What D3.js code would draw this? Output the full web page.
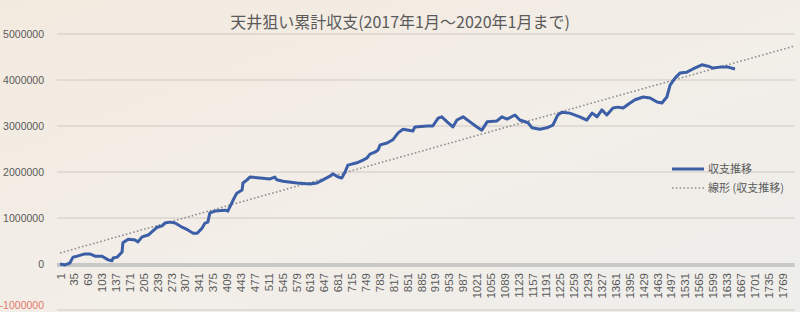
<!DOCTYPE html>
<html>
<head>
<meta charset="utf-8">
<script src="https://cdn.jsdelivr.net/npm/d3@7"></script>
<style>
  body { margin: 0; background: #f1ede6; }
  svg { display: block; font-family: "Liberation Sans", "Noto Sans CJK JP", sans-serif; }
</style>
</head>
<body>
<svg id="chart" width="800" height="312"></svg>
<script>
// data
const chartTitle = '天井狙い累計収支(2017年1月～2020年1月まで)';
const seriesName = '収支推移';
const trendName = '線形 (収支推移)';

// [row index, cumulative balance]
const balance = [
  [1, 0], [13, -20000], [25, 20000], [33, 150000], [43, 170000], [62, 220000], [74, 220000],
  [87, 170000], [104, 170000], [119, 90000], [128, 70000], [131, 130000], [141, 150000],
  [153, 260000], [155, 460000], [168, 540000], [185, 520000], [192, 480000], [202, 590000],
  [217, 630000], [226, 700000], [239, 800000], [251, 830000], [258, 890000], [270, 910000],
  [283, 890000], [300, 800000], [314, 740000], [327, 670000], [337, 670000], [349, 780000],
  [356, 890000], [363, 910000], [368, 1110000], [381, 1150000], [405, 1170000], [412, 1150000],
  [417, 1240000], [425, 1390000], [434, 1540000], [447, 1610000], [449, 1760000], [459, 1830000],
  [466, 1890000], [491, 1870000], [515, 1850000], [527, 1890000], [532, 1830000], [547, 1800000],
  [581, 1760000], [613, 1740000], [630, 1760000], [645, 1830000], [662, 1910000], [669, 1960000],
  [682, 1890000], [691, 1870000], [699, 2000000], [706, 2150000], [728, 2200000], [743, 2260000],
  [752, 2300000], [760, 2390000], [772, 2430000], [780, 2480000], [785, 2590000], [802, 2630000],
  [816, 2700000], [829, 2850000], [841, 2930000], [865, 2890000], [870, 2980000], [900, 3000000],
  [914, 3000000], [927, 3170000], [936, 3200000], [949, 3090000], [963, 2980000], [973, 3130000],
  [988, 3200000], [1005, 3090000], [1022, 2980000], [1034, 2910000], [1047, 3090000],
  [1071, 3110000], [1083, 3200000], [1096, 3150000], [1115, 3240000], [1127, 3130000],
  [1147, 3070000], [1157, 2960000], [1176, 2930000], [1193, 2960000], [1208, 3020000],
  [1220, 3240000], [1230, 3300000], [1249, 3280000], [1274, 3200000], [1291, 3130000],
  [1304, 3280000], [1316, 3200000], [1328, 3350000], [1340, 3240000], [1355, 3390000],
  [1367, 3410000], [1380, 3390000], [1397, 3500000], [1409, 3570000], [1429, 3630000],
  [1446, 3610000], [1463, 3520000], [1475, 3500000], [1487, 3630000], [1495, 3890000],
  [1507, 4040000], [1519, 4150000], [1536, 4170000], [1551, 4240000], [1573, 4330000],
  [1588, 4300000], [1600, 4260000], [1617, 4280000], [1637, 4280000], [1654, 4240000]
];

// linear trend line ends, as drawn
const trendLine = [[1, 240000], [1800, 4740000]];

const yTicks = [-1000000, 0, 1000000, 2000000, 3000000, 4000000, 5000000];
const xTicks = [1, 35, 69, 103, 137, 171, 205, 239, 273, 307, 341, 375, 409, 443, 477, 511, 545,
  579, 613, 647, 681, 715, 749, 783, 817, 851, 885, 919, 953, 987, 1021, 1055, 1089, 1123, 1157,
  1191, 1225, 1259, 1293, 1327, 1361, 1395, 1429, 1463, 1497, 1531, 1565, 1599, 1633, 1667, 1701,
  1735, 1769];

const svg = d3.select('#chart');
const width = 800, height = 312;

// photo-ish background
const defs = svg.append('defs');
const grad = defs.append('linearGradient')
  .attr('id', 'bg').attr('x1', 0).attr('y1', 0).attr('x2', 1).attr('y2', 1);
grad.append('stop').attr('offset', 0).attr('stop-color', '#f3eadf');
grad.append('stop').attr('offset', 0.55).attr('stop-color', '#f2eee8');
grad.append('stop').attr('offset', 1).attr('stop-color', '#eeeeeb');
svg.append('rect').attr('width', width).attr('height', height).attr('fill', 'url(#bg)');

const x = d3.scaleLinear().domain([1, 1769]).range([60, 782]);
const y = d3.scaleLinear().domain([-1000000, 5000000]).range([310, 34]);
const plotLeft = 57, plotRight = x(1800);

// gridlines
svg.append('g')
  .selectAll('line')
  .data(yTicks.filter(d => d !== 0))
  .join('line')
    .attr('x1', plotLeft).attr('x2', plotRight)
    .attr('y1', d => y(d)).attr('y2', d => y(d))
    .attr('stroke', '#cfcac3').attr('stroke-width', 1);

// y labels (bottom one nudged up so it stays inside the frame)
svg.append('g')
  .selectAll('text')
  .data(yTicks)
  .join('text')
    .attr('x', 44).attr('y', d => Math.min(y(d), 305))
    .attr('dy', '0.35em')
    .attr('text-anchor', 'end')
    .attr('font-size', 10.5)
    .attr('fill', d => d < 0 ? '#e2796b' : '#5a5a5a')
    .text(d => d);

// category axis (the zero line)
const xAxis = d3.axisBottom(x)
  .tickValues(xTicks)
  .tickSize(0)
  .tickPadding(0)
  .tickFormat(d => d);

const gx = svg.append('g')
  .attr('transform', `translate(0,${y(0)})`)
  .call(xAxis);
gx.select('.domain').remove();
gx.insert('line', ':first-child')
  .attr('x1', plotLeft).attr('x2', plotRight)
  .attr('y1', 1).attr('y2', 1)
  .attr('stroke', '#c8c8c6').attr('stroke-width', 4);
gx.selectAll('text')
  .attr('transform', 'rotate(-90)')
  .attr('x', -9).attr('y', 0)
  .attr('dy', '0.35em')
  .attr('text-anchor', 'end')
  .attr('font-size', 11.5)
  .attr('font-family', '"Liberation Sans", sans-serif')
  .attr('fill', '#5a5a5a');

// trend line
const line = d3.line().x(d => x(d[0])).y(d => y(d[1]));
svg.append('path')
  .datum(trendLine)
  .attr('d', line)
  .attr('fill', 'none')
  .attr('stroke', '#8f8f8f')
  .attr('stroke-width', 1.6)
  .attr('stroke-dasharray', '1.6,2.2');

// balance line
svg.append('path')
  .datum(balance)
  .attr('d', line)
  .attr('fill', 'none')
  .attr('stroke', '#3b5ea6')
  .attr('stroke-width', 3)
  .attr('stroke-linejoin', 'round');

// title
svg.append('text')
  .attr('x', 400).attr('y', 28)
  .attr('text-anchor', 'middle')
  .attr('font-size', 16)
  .attr('font-family', '"Noto Sans CJK JP", sans-serif')
  .attr('fill', '#5a5a5a')
  .text(chartTitle);

// legend
const legend = svg.append('g').attr('font-family', '"Noto Sans CJK JP", sans-serif');
const legendItems = [
  { name: seriesName, dash: null, color: '#3b5ea6', w: 3, ly: 169 },
  { name: trendName, dash: '1.6,2.2', color: '#8f8f8f', w: 1.6, ly: 188 }
];
legendItems.forEach(d => {
  legend.append('line')
    .attr('x1', 672).attr('x2', 704)
    .attr('y1', d.ly).attr('y2', d.ly)
    .attr('stroke', d.color)
    .attr('stroke-width', d.w)
    .attr('stroke-dasharray', d.dash);
  legend.append('text')
    .attr('x', 708).attr('y', d.ly)
    .attr('dy', '0.35em')
    .attr('font-size', 11)
    .attr('fill', '#5a5a5a')
    .text(d.name);
});
</script>
</body>
</html>
